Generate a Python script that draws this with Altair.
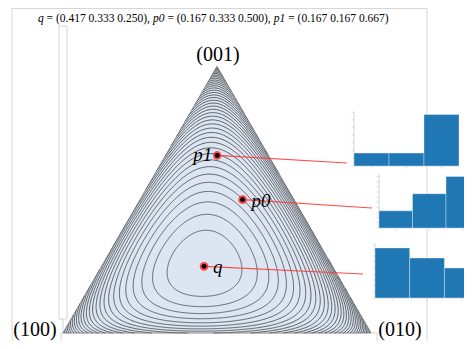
import numpy as np
import pandas as pd
import altair as alt

# ---------------- data ----------------
q = [0.417, 0.333, 0.250]
p0 = [0.167, 0.333, 0.500]
p1 = [0.167, 0.167, 0.667]
point_names = ["q", "p0", "p1"]
bar_index = [0, 1, 2]
vertex_labels = ["(100)", "(010)", "(001)"]
title_parts = ["q", "= (0.417 0.333 0.250),", "p0", "= (0.167 0.333 0.500),", "p1", "= (0.167 0.167 0.667)"]
title_italic = [True, False, True, False, True, False]
level_step = 0.031      # contour spacing of the (smoothed) divergence KL(q || p)
smooth_eps = 0.05       # floor added to probabilities (bounded near the edges)

# ---------------- layout (page pixels) ----------------
V = np.array([[63.0, 333.0], [371.0, 333.0], [217.0, 66.3]])  # (100), (010), (001)
XS = alt.Scale(domain=[8, 464], nice=False, zero=False)
YS = alt.Scale(domain=[341, 8], nice=False, zero=False)
SERIF = "Liberation Serif, Times New Roman, serif"


def X(f="x"):
    return alt.X(f"{f}:Q", scale=XS, axis=None)


def Y(f="y"):
    return alt.Y(f"{f}:Q", scale=YS, axis=None)


def to_px(p):
    return np.asarray(p) @ V


# ---------------- contours ----------------
Q = np.array(q)
E = smooth_eps
Qe = (Q + E) / (1 + 3 * E)
qx, qy = to_px(Q)
A = np.vstack([V.T, np.ones(3)])


def ray_dirs(th):
    th = np.atleast_1d(th)
    dx, dy = np.cos(th), np.sin(th)
    dP = np.linalg.solve(A, np.vstack([dx, dy, np.zeros_like(dx)]))
    with np.errstate(divide="ignore", invalid="ignore"):
        lim = np.where(dP < 0, Q[:, None] / (-dP), np.inf)
    return dx, dy, dP, lim.min(axis=0)


def div(t, dP):
    P = (Q.reshape(3, *([1] * t.ndim)) + t[None] * dP.reshape(3, *([1] * (t.ndim - 1)), -1) + E) / (1 + 3 * E)
    Qb = Qe.reshape(3, *([1] * t.ndim))
    return (Qb * np.log(Qb / P)).sum(axis=0)


def edge_value(th):
    dx, dy, dP, tm = ray_dirs(th)
    return div(tm, dP)


n_ang = 721
theta = np.linspace(0, 2 * np.pi, n_ang)
dx, dy, dP, tmax = ray_dirs(theta)
ev = div(tmax, dP)
n_levels = int(np.floor(ev.max() / level_step))
levels = level_step * np.arange(1, n_levels + 1)

lo = np.zeros((n_levels, n_ang))
hi = np.tile(tmax, (n_levels, 1))
for _ in range(60):
    mid = 0.5 * (lo + hi)
    over = div(mid, dP) > levels[:, None]
    hi = np.where(over, mid, hi)
    lo = np.where(over, lo, mid)
tt = 0.5 * (lo + hi)


def boundary_cross(th_in, th_out, lev):
    a, b = th_in, th_out
    for _ in range(40):
        m = 0.5 * (a + b)
        if edge_value(m)[0] > lev:
            a = m
        else:
            b = m
    m = 0.5 * (a + b)
    ddx, ddy, _, tm = ray_dirs(m)
    return qx + tm[0] * ddx[0], qy + tm[0] * ddy[0]


rows = []
seg_id = 0
step_th = theta[1] - theta[0]
for li in range(n_levels):
    lev = levels[li]
    valid = ev[:-1] > lev
    xs = qx + tt[li] * dx
    ys = qy + tt[li] * dy
    if valid.all():
        for k in range(n_ang):
            rows.append((seg_id, k, round(xs[k], 2), round(ys[k], 2)))
        seg_id += 1
        continue
    m = n_ang - 1
    start = int(np.argmin(valid))
    order = [(start + j) % m for j in range(m)]
    run = []
    for j, k in enumerate(order + [order[0]]):
        ok = valid[k] if j < m else False
        if ok:
            run.append(k)
        elif run:
            k_first, k_last = run[0], run[-1]
            bx0, by0 = boundary_cross(theta[k_first], theta[k_first] - step_th, lev)
            bx1, by1 = boundary_cross(theta[k_last], theta[k_last] + step_th, lev)
            pts = [(bx0, by0)] + [(xs[r], ys[r]) for r in run] + [(bx1, by1)]
            for o, (px, py) in enumerate(pts):
                rows.append((seg_id, o, round(px, 2), round(py, 2)))
            seg_id += 1
            run = []
contour_df = pd.DataFrame(rows, columns=["seg", "idx", "x", "y"])

# ---------------- triangle ----------------
tri_fill = pd.DataFrame({"x": [V[0, 0], V[2, 0], V[1, 0]],
                         "y": [V[0, 1], V[2, 1], V[1, 1]],
                         "y2": [V[0, 1], V[0, 1], V[1, 1]]})
tri_edge = pd.DataFrame({"idx": [0, 1, 2, 3],
                         "x": [V[0, 0], V[1, 0], V[2, 0], V[0, 0]],
                         "y": [V[0, 1], V[1, 1], V[2, 1], V[0, 1]]})

# ---------------- frame lines ----------------
frame = pd.DataFrame({
    "x": [12, 12, 427, 59, 59, 67, 59, 63, 61, 61, 371, 377],
    "x2": [427, 12, 427, 67, 59, 67, 67, 63, 63, 61, 377, 377],
    "y": [8.5, 8.5, 8.5, 26, 26, 26, 319, 319, 333, 333, 333, 333],
    "y2": [8.5, 349, 349, 26, 319, 319, 319, 333, 333, 349, 333, 349],
})

# ---------------- points, labels, leader lines ----------------
dists = {"q": q, "p0": p0, "p1": p1}
pts = np.array([to_px(dists[n]) for n in point_names])
leader_end = {"q": (363, 274), "p0": (372, 208), "p1": (347, 163)}
points_df = pd.DataFrame({"name": point_names, "x": pts[:, 0], "y": pts[:, 1],
                          "x2": [leader_end[n][0] for n in point_names],
                          "y2": [leader_end[n][1] for n in point_names]})
label_right = points_df[points_df["name"] != "p1"].copy()
label_left = points_df[points_df["name"] == "p1"].copy()

vert_df = pd.DataFrame({"label": vertex_labels,
                        "x": [35, 400, 218], "y": [329.5, 329.5, 55]})

title_x = [38, 46.6, 153, 167.4, 273.8, 288.2]
title_df = pd.DataFrame({"t": title_parts, "x": title_x, "y": [19] * 6, "it": title_italic})

# ---------------- insets ----------------
inset_spec = {  # left x, bottom y, bar width, y max, tick step
    "p1": (354, 166, 35.0, 0.70, 0.10),
    "p0": (379, 228, 33.5, 0.525, 0.05),
    "q": (375, 298, 34.7, 0.45, 0.05),
}
INSET_H = 54.0
bars, spines, ticks = [], [], []
for n in point_names:
    x0, b, w, ymax, step = inset_spec[n]
    s = INSET_H / ymax
    for i, v in zip(bar_index, dists[n]):
        bars.append((n, x0 + i * w, x0 + (i + 1) * w, b - v * s, b))
    spines.append((x0, x0, b, b - ymax * s))
    spines.append((x0, x0 + 3 * w, b, b))
    for tv in np.arange(0, ymax + 1e-9, step):
        ticks.append((x0 - 2.5, x0, b - tv * s, b - tv * s))
    for i in bar_index:
        cx = x0 + (i + 0.5) * w
        ticks.append((cx, cx, b, b + 2.5))
bars_df = pd.DataFrame(bars, columns=["name", "x", "x2", "y", "y2"])
spine_df = pd.DataFrame(spines, columns=["x", "x2", "y", "y2"])
tick_df = pd.DataFrame(ticks, columns=["x", "x2", "y", "y2"])

# ---------------- layers ----------------
frame_l = alt.Chart(frame).mark_rule(color="#d6d6d6", strokeWidth=1).encode(
    x=X(), x2="x2", y=Y(), y2="y2")
fill_l = alt.Chart(tri_fill).mark_area(color="#dce6f2", opacity=1).encode(
    x=X(), y=Y(), y2="y2")
cont_l = alt.Chart(contour_df).mark_line(color="#333333", strokeWidth=0.75).encode(
    x=X(), y=Y(), detail="seg:N", order="idx:Q")
edge_l = alt.Chart(tri_edge).mark_line(color="#6a6a6a", strokeWidth=0.8).encode(
    x=X(), y=Y(), order="idx:Q")
lead_l = alt.Chart(points_df).mark_rule(color="#ff3b3b", strokeWidth=1.2, opacity=0.9).encode(
    x=X(), x2="x2", y=Y(), y2="y2")
ring_l = alt.Chart(points_df).mark_circle(color="#ff2a2a", size=75, opacity=0.85).encode(x=X(), y=Y())
dot_l = alt.Chart(points_df).mark_circle(color="black", size=24, opacity=1).encode(x=X(), y=Y())
lab_r = alt.Chart(label_right).mark_text(font=SERIF, fontStyle="italic", fontSize=19, align="left",
                                         baseline="middle", dx=9, dy=1).encode(x=X(), y=Y(), text="name:N")
lab_l = alt.Chart(label_left).mark_text(font=SERIF, fontStyle="italic", fontSize=19, align="right",
                                        baseline="middle", dx=-5, dy=0).encode(x=X(), y=Y(), text="name:N")
vert_l = alt.Chart(vert_df).mark_text(font=SERIF, fontSize=20, align="center", baseline="middle",
                                      color="black").encode(x=X(), y=Y(), text="label:N")
title_it = alt.Chart(title_df[title_df["it"]]).mark_text(font=SERIF, fontStyle="italic", fontSize=11.5,
                                                         align="left", baseline="middle").encode(
    x=X(), y=Y(), text="t:N")
title_rm = alt.Chart(title_df[~title_df["it"]]).mark_text(font=SERIF, fontSize=11.5, align="left",
                                                          baseline="middle").encode(x=X(), y=Y(), text="t:N")
bar_l = alt.Chart(bars_df).mark_rect(color="#1f77b4", stroke="white", strokeOpacity=0.35,
                                     strokeWidth=1).encode(x=X(), x2="x2", y=Y(), y2="y2")
spine_l = alt.Chart(spine_df).mark_rule(color="#c8c8c8", strokeWidth=0.8).encode(
    x=X(), x2="x2", y=Y(), y2="y2")
tick_l = alt.Chart(tick_df).mark_rule(color="#c8c8c8", strokeWidth=0.6).encode(
    x=X(), x2="x2", y=Y(), y2="y2")

chart = alt.layer(
    frame_l, fill_l, cont_l, edge_l, lead_l, ring_l, dot_l, lab_r, lab_l, vert_l,
    title_it, title_rm, spine_l, tick_l, bar_l
).properties(
    width=456, height=333, padding=0, autosize=alt.AutoSizeParams(type="none")
).configure_view(stroke=None)

chart.save("out.html", embed_options={"renderer": "svg", "actions": False})
